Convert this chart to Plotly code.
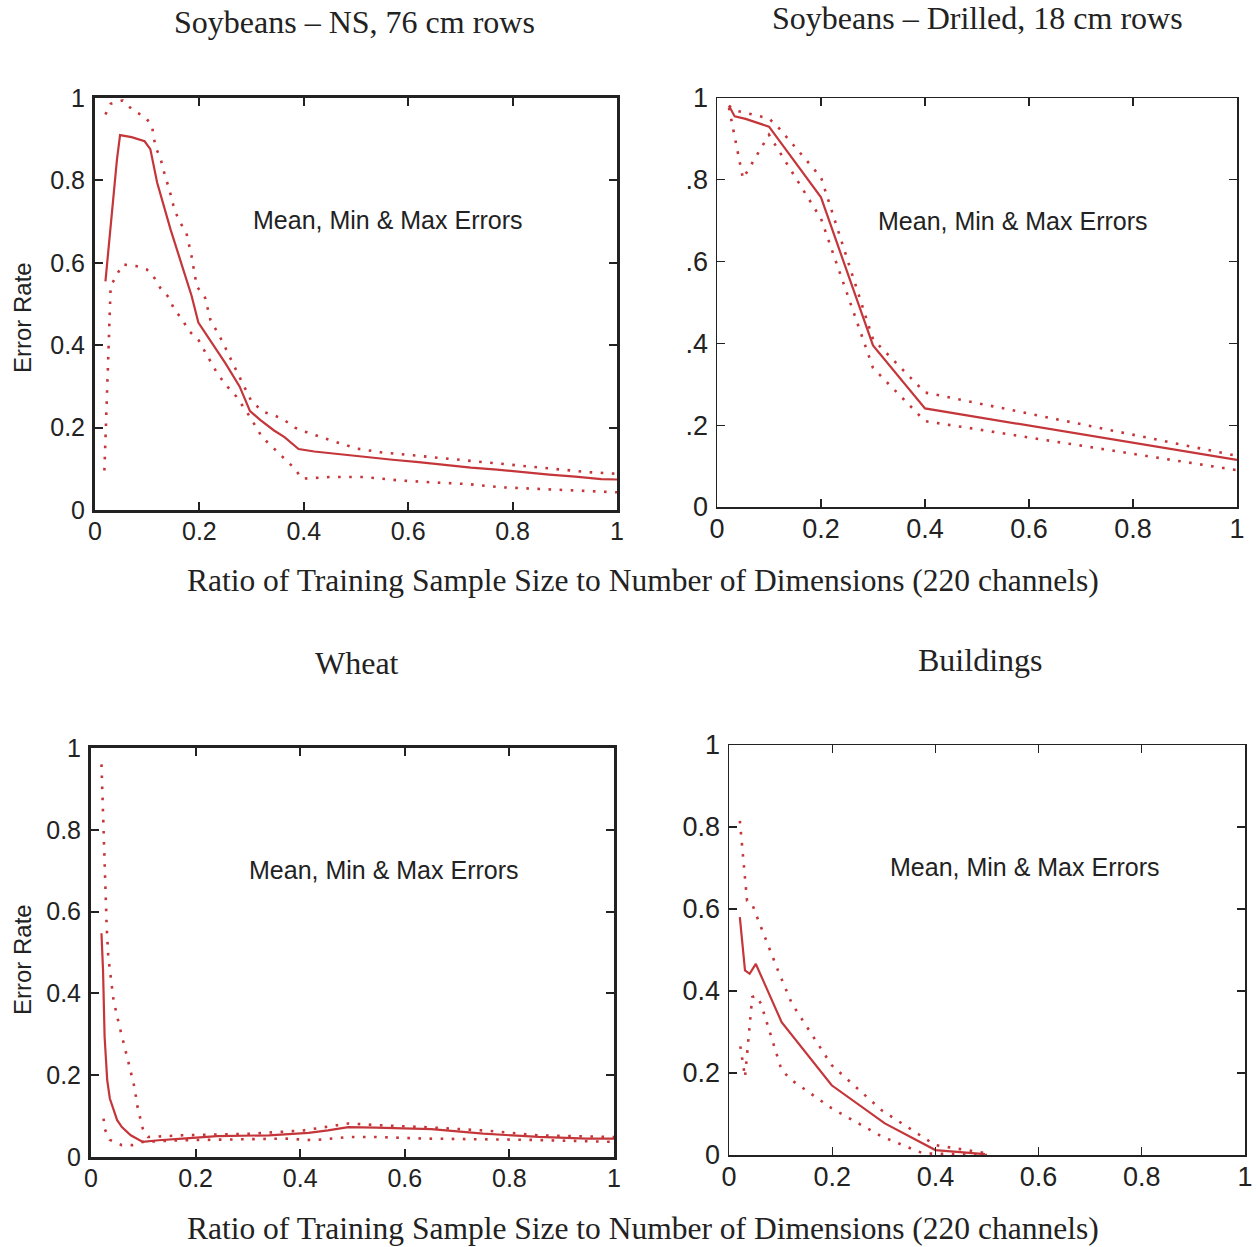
import plotly.graph_objects as go

W, H = 1259, 1247

# ---------------- Data ----------------
# Panel 1: Soybeans - NS, 76 cm rows
ns_mean_x = [0.02, 0.025, 0.03, 0.036, 0.042, 0.048, 0.07, 0.095, 0.106, 0.119, 0.145, 0.165, 0.185, 0.198,
             0.224, 0.25, 0.277, 0.297, 0.317, 0.343, 0.363, 0.39, 0.42, 0.47, 0.52, 0.57, 0.62, 0.67,
             0.72, 0.77, 0.825, 0.87, 0.92, 0.97, 1.0]
ns_mean = [0.555, 0.62, 0.70, 0.77, 0.85, 0.91, 0.905, 0.895, 0.876, 0.795, 0.68, 0.60, 0.52, 0.455,
           0.405, 0.356, 0.30, 0.24, 0.218, 0.193, 0.177, 0.148, 0.142, 0.135, 0.128, 0.122, 0.116, 0.109,
           0.103, 0.098, 0.091, 0.086, 0.081, 0.075, 0.074]
ns_max_x = [0.02, 0.03, 0.053, 0.073, 0.096, 0.109, 0.116, 0.125, 0.135, 0.142, 0.152, 0.162, 0.175, 0.185,
            0.195, 0.211, 0.221, 0.244, 0.264, 0.284, 0.30, 0.323, 0.343, 0.363, 0.383, 0.403, 0.442,
            0.502, 0.548, 0.607, 0.686, 0.746, 0.812, 0.878, 0.944, 1.0]
ns_max = [0.96, 0.986, 0.994, 0.97, 0.954, 0.933, 0.88, 0.856, 0.807, 0.78, 0.73, 0.70, 0.673, 0.616,
          0.543, 0.515, 0.462, 0.409, 0.356, 0.303, 0.263, 0.238, 0.23, 0.218, 0.20, 0.19, 0.173,
          0.149, 0.14, 0.133, 0.124, 0.116, 0.108, 0.10, 0.092, 0.088]
ns_min_x = [0.018, 0.03, 0.04, 0.053, 0.079, 0.099, 0.112, 0.125, 0.142, 0.152, 0.168, 0.178, 0.198, 0.211,
            0.234, 0.251, 0.271, 0.297, 0.32, 0.343, 0.363, 0.383, 0.396, 0.449, 0.515, 0.581, 0.647,
            0.713, 0.779, 0.845, 0.911, 1.0]
ns_min = [0.096, 0.543, 0.567, 0.596, 0.592, 0.584, 0.567, 0.539, 0.515, 0.486, 0.462, 0.437, 0.413, 0.385,
          0.332, 0.303, 0.275, 0.226, 0.177, 0.149, 0.124, 0.10, 0.076, 0.08, 0.08, 0.072, 0.067,
          0.063, 0.055, 0.051, 0.047, 0.043]

# Panel 2: Soybeans - Drilled, 18 cm rows
dr_mean_x = [0.023, 0.034, 0.055, 0.10, 0.20, 0.30, 0.40, 1.0]
dr_mean = [0.981, 0.955, 0.949, 0.93, 0.757, 0.395, 0.241, 0.115]
dr_max_x = [0.023, 0.034, 0.10, 0.12, 0.20, 0.30, 0.40, 1.0]
dr_max = [0.981, 0.97, 0.95, 0.925, 0.806, 0.41, 0.28, 0.125]
dr_min_x = [0.023, 0.05, 0.10, 0.20, 0.30, 0.40, 1.0]
dr_min = [0.976, 0.803, 0.91, 0.705, 0.34, 0.21, 0.09]

# Panel 3: Wheat
wh_mean_x = [0.02, 0.023, 0.026, 0.031, 0.036, 0.043, 0.05, 0.059, 0.076, 0.099, 0.129, 0.175, 0.241,
             0.34, 0.416, 0.453, 0.492, 0.545, 0.651, 0.75, 0.856, 0.948, 1.0]
wh_mean = [0.547, 0.457, 0.294, 0.188, 0.143, 0.114, 0.09, 0.073, 0.053, 0.037, 0.041, 0.045, 0.051,
           0.053, 0.059, 0.065, 0.073, 0.072, 0.068, 0.057, 0.049, 0.045, 0.045]
wh_max_x = [0.02, 0.023, 0.026, 0.03, 0.033, 0.038, 0.043, 0.053, 0.063, 0.073, 0.083, 0.089, 0.099,
            0.109, 0.175, 0.307, 0.406, 0.492, 0.545, 0.638, 0.75, 0.856, 1.0]
wh_max = [0.96, 0.824, 0.694, 0.563, 0.49, 0.433, 0.384, 0.327, 0.278, 0.224, 0.171, 0.122, 0.069,
          0.049, 0.053, 0.057, 0.065, 0.082, 0.078, 0.073, 0.065, 0.053, 0.049]
wh_min_x = [0.024, 0.026, 0.036, 0.059, 0.079, 0.099, 0.175, 0.373, 0.426, 0.492, 0.545, 0.638, 0.836, 1.0]
wh_min = [0.094, 0.069, 0.042, 0.029, 0.029, 0.037, 0.041, 0.045, 0.041, 0.049, 0.049, 0.045, 0.042, 0.037]

# Panel 4: Buildings
bu_mean_x = [0.021, 0.031, 0.04, 0.052, 0.102, 0.199, 0.302, 0.40, 0.496]
bu_mean = [0.58, 0.45, 0.442, 0.466, 0.324, 0.17, 0.077, 0.012, 0.002]
bu_max_x = [0.021, 0.035, 0.045, 0.052, 0.095, 0.122, 0.199, 0.296, 0.40, 0.50]
bu_max = [0.815, 0.62, 0.612, 0.588, 0.45, 0.369, 0.219, 0.109, 0.024, 0.004]
bu_min_x = [0.022, 0.031, 0.045, 0.052, 0.062, 0.102, 0.122, 0.199, 0.296, 0.376, 0.50]
bu_min = [0.265, 0.19, 0.385, 0.389, 0.369, 0.207, 0.182, 0.114, 0.045, 0.004, 0.0]

titles = ["Soybeans \u2013 NS, 76 cm rows", "Soybeans \u2013 Drilled, 18 cm rows", "Wheat", "Buildings"]
x_title = "Ratio of Training Sample Size to Number of Dimensions (220 channels)"
y_title = "Error Rate"
note = "Mean, Min & Max Errors"
x_tickvals = [0, 0.2, 0.4, 0.6, 0.8, 1]
x_ticktext = ["0", "0.2", "0.4", "0.6", "0.8", "1"]
y_ticktext_std = ["0", "0.2", "0.4", "0.6", "0.8", "1"]
y_ticktext_drilled = ["0", ".2", ".4", ".6", ".8", "1"]

# ---------------- Layout helpers ----------------
RED = "#c4363a"
SERIF = "Liberation Serif, Times New Roman, serif"
SANS = "Liberation Sans, Arial, sans-serif"


def px(x):
    return x / W


def py(y):
    return 1 - y / H


# pixel boxes: (left, top, right, bottom), frame width, ytick labels
panels = [
    dict(box=(95, 98, 617, 510), lw=3, yt=y_ticktext_std, tsize=25,
         data=(ns_mean_x, ns_mean, ns_max_x, ns_max, ns_min_x, ns_min)),
    dict(box=(717, 98, 1237, 507), lw=1.5, yt=y_ticktext_drilled, tsize=27,
         data=(dr_mean_x, dr_mean, dr_max_x, dr_max, dr_min_x, dr_min)),
    dict(box=(91, 748, 614, 1157), lw=3, yt=y_ticktext_std, tsize=25,
         data=(wh_mean_x, wh_mean, wh_max_x, wh_max, wh_min_x, wh_min)),
    dict(box=(729, 745, 1245, 1155), lw=1.5, yt=y_ticktext_std, tsize=27,
         data=(bu_mean_x, bu_mean, bu_max_x, bu_max, bu_min_x, bu_min)),
]

fig = go.Figure()
layout = dict(width=W, height=H, margin=dict(l=0, r=0, t=0, b=0, autoexpand=False),
              paper_bgcolor="white", plot_bgcolor="white", showlegend=False)

for i, p in enumerate(panels, start=1):
    sfx = "" if i == 1 else str(i)
    l, t, r, b = p["box"]
    common = dict(range=[0, 1], tickvals=x_tickvals, ticks="inside", ticklen=8,
                  tickwidth=2 if p["lw"] > 2 else 1.2, tickcolor="#222",
                  showline=True, linewidth=p["lw"], linecolor="#222", mirror="ticks",
                  showgrid=False, zeroline=False, automargin=False,
                  tickfont=dict(family=SANS, size=p["tsize"], color="#222"))
    xa = dict(domain=[px(l), px(r)], anchor="y" + sfx, ticktext=x_ticktext,
              ticklabelstandoff=-3, **common)
    ya = dict(domain=[py(b), py(t)], anchor="x" + sfx, ticktext=p["yt"],
              ticklabelstandoff=2, **common)
    layout["xaxis" + sfx] = xa
    layout["yaxis" + sfx] = ya
    mx, my, ax_, ay_, nx_, ny_ = p["data"]
    fig.add_trace(go.Scatter(x=mx, y=my, mode="lines", xaxis="x" + sfx, yaxis="y" + sfx,
                             line=dict(color=RED, width=2.2), hoverinfo="skip"))
    for xx, yy in ((ax_, ay_), (nx_, ny_)):
        fig.add_trace(go.Scatter(x=xx, y=yy, mode="lines", xaxis="x" + sfx, yaxis="y" + sfx,
                                 line=dict(color=RED, width=2.6, dash="2.6px,8.5px"),
                                 hoverinfo="skip"))

annotations = []
# titles
for (cx, cy), txt in zip([(354, 22), (977, 18), (357, 663), (980, 660)], titles):
    annotations.append(dict(x=px(cx), y=py(cy), xref="paper", yref="paper", text=txt,
                            showarrow=False, xanchor="center", yanchor="middle",
                            font=dict(family=SERIF, size=32, color="#222")))
# common x titles
for cy in (581, 1228):
    annotations.append(dict(x=px(643), y=py(cy), xref="paper", yref="paper", text=x_title,
                            showarrow=False, xanchor="center", yanchor="middle",
                            font=dict(family=SERIF, size=31.5, color="#222")))
# y titles
for cy in (318, 960):
    annotations.append(dict(x=px(22), y=py(cy), xref="paper", yref="paper", text=y_title,
                            showarrow=False, xanchor="center", yanchor="middle", textangle=-90,
                            font=dict(family=SANS, size=24, color="#222")))
# in-plot notes
for cx, cy in ((388, 220), (1013, 221), (384, 870), (1025, 867)):
    annotations.append(dict(x=px(cx), y=py(cy), xref="paper", yref="paper", text=note,
                            showarrow=False, xanchor="center", yanchor="middle",
                            font=dict(family=SANS, size=25, color="#222")))

layout["annotations"] = annotations
fig.update_layout(**layout)
fig.write_html("out.html", config={"displayModeBar": False, "staticPlot": True},
               post_script="document.body.style.margin='0px';document.body.style.overflow='hidden';")
